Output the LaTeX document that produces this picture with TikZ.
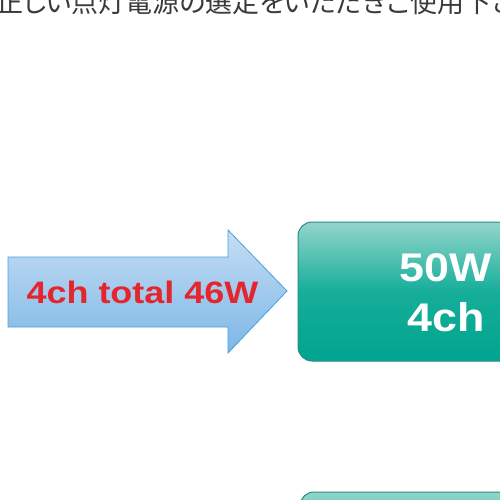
\documentclass[tikz,border=0pt]{standalone}
\usepackage{fontspec}
\setmainfont{Liberation Sans}
\newfontfamily\jpfont[RawFeature=+palt]{Noto Sans CJK JP}
\definecolor{arrowtop}{HTML}{C6DDF4}
\definecolor{arrowbot}{HTML}{7DB7E6}
\definecolor{arrowline}{HTML}{45A2DC}
\definecolor{txtred}{HTML}{E3262D}
\definecolor{boxtop}{HTML}{93D5CB}
\definecolor{boxmid}{HTML}{16AE9A}
\definecolor{boxbot}{HTML}{00A48F}
\definecolor{boxline}{HTML}{2A8C82}
\definecolor{jpgray}{HTML}{3A3A3A}
\tikzset{
  boxshape/.style={draw=boxline, line width=1pt, rounded corners=14pt, top color=boxtop, bottom color=boxbot, middle color=boxmid},
  boxtext/.style={text=white, font=\bfseries\fontsize{40}{40}\selectfont, inner sep=0pt, xscale=1.12},
  arrowtext/.style={text=txtred, font=\bfseries\fontsize{31}{31}\selectfont, inner sep=0pt, xscale=1.16},
}
\begin{document}
\begin{tikzpicture}[x=1pt,y=-1pt]
\useasboundingbox (0,0) rectangle (500,500);
\clip (0,0) rectangle (500,500);
% top Japanese line (cut off)
\node[anchor=base west, inner sep=0pt, text=jpgray, font=\jpfont\fontsize{27}{27}\selectfont] (jp) at (-4,13) {正しい点灯電源の選定をいただきご使用下さい};
% arrow
\shade[draw=arrowline, line width=0.8pt, top color=arrowtop, bottom color=arrowbot]
  (8,257) -- (228,257) -- (228,230) -- (287,291) -- (228,353) -- (228,327) -- (8,327) -- cycle;
\node[arrowtext] (a) at (142.5,292) {4ch total 46W};
% main box
\path[boxshape] (298,222) rectangle (540,361);
\node[boxtext] (p) at (446,268) {50W};
\node[boxtext] (c) at (446,317) {4ch};
% lower box
\path[boxshape] (300,492) rectangle (540,620);
\end{tikzpicture}
\end{document}
